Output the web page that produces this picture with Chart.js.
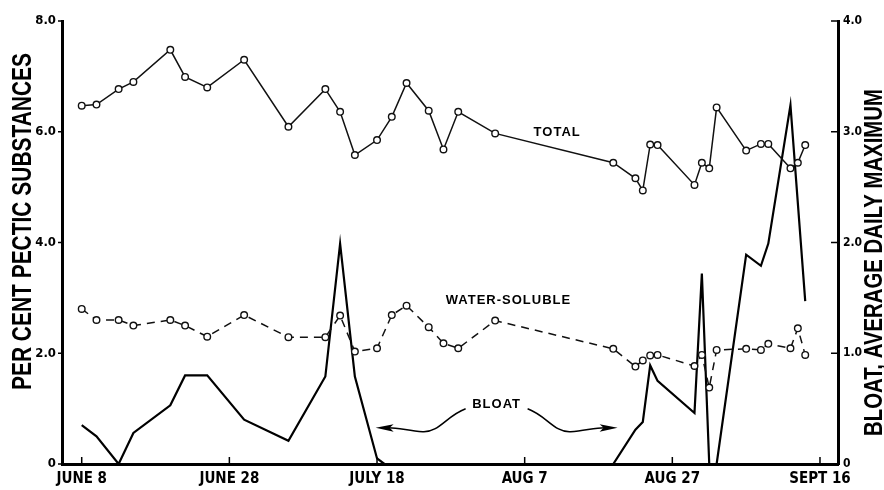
<!DOCTYPE html>
<html lang="en">
  <head>
    <meta charset="utf-8" />
    <meta name="viewport" content="width=device-width, initial-scale=1" />
    <title>Pectic substances and bloat</title>
    <style>
      * {
        margin: 0;
        padding: 0;
      }
      body {
        background: #fff;
      }
      .chartBox {
        width: 884px;
        height: 490px;
      }
    </style>
  </head>
  <body>
    <div class="chartBox">
      <canvas id="myChart"></canvas>
    </div>

    <script src="https://cdn.jsdelivr.net/npm/chart.js@4.4.0/dist/chart.umd.min.js"></script>

    <script>
      // sampling days, counted from June 8
      const sampleDays = [0, 2, 5, 7, 12, 14, 17, 22, 28, 33, 35, 37, 40, 42, 44, 47, 49, 51, 56, 72, 75, 76, 77, 78, 83, 84, 85, 86, 90, 92, 93, 96, 97, 98];
      const totalPectic = [6.47, 6.49, 6.77, 6.9, 7.48, 6.99, 6.8, 7.3, 6.09, 6.77, 6.36, 5.58, 5.85, 6.27, 6.88, 6.38, 5.68, 6.36, 5.97, 5.44, 5.16, 4.94, 5.77, 5.76, 5.04, 5.44, 5.34, 6.44, 5.66, 5.78, 5.78, 5.34, 5.44, 5.76];
      const waterSoluble = [2.8, 2.6, 2.6, 2.5, 2.6, 2.5, 2.3, 2.69, 2.29, 2.29, 2.68, 2.03, 2.09, 2.69, 2.86, 2.47, 2.18, 2.09, 2.59, 2.08, 1.76, 1.87, 1.96, 1.97, 1.77, 1.97, 1.38, 2.06, 2.08, 2.06, 2.17, 2.09, 2.45, 1.97];

      // bloat, average daily maximum (right axis); null = no bloat period
      const bloatDays = [0, 2, 5, 7, 12, 14, 17, 22, 28, 33, 35, 37, 40, 41, 56, 72, 75, 76, 77, 78, 83, 84, 85, 86, 90, 92, 93, 96, 98];
      const bloatMax = [0.35, 0.25, 0, 0.28, 0.53, 0.8, 0.8, 0.4, 0.21, 0.79, 1.99, 0.79, 0.05, 0, null, 0, 0.31, 0.38, 0.89, 0.75, 0.46, 1.72, 0, 0, 1.89, 1.79, 1.99, 3.24, 1.47];

      const dateTicks = [0, 20, 40, 60, 80, 100];
      const dateLabels = ["JUNE 8", "JUNE 28", "JULY 18", "AUG 7", "AUG 27", "SEPT 16"];
      const pecticTicks = [0, 2, 4, 6, 8];
      const bloatTicks = [0, 1, 2, 3, 4];

      const toPoints = (xs, ys) => xs.map((x, i) => ({ x: x, y: ys[i] }));
      const numLabel = (v) => (v === 0 ? "0" : v.toFixed(1));
      const narrow = '"Liberation Sans Narrow", "DejaVu Sans Condensed", "Liberation Sans", sans-serif';

      const data = {
        datasets: [
          {
            label: "Total",
            data: toPoints(sampleDays, totalPectic),
            yAxisID: "y",
            borderColor: "#111",
            borderWidth: 1.5,
            pointRadius: 3.3,
            pointBorderWidth: 1.4,
            pointBackgroundColor: "#fff",
            pointBorderColor: "#111",
          },
          {
            label: "Water-soluble",
            data: toPoints(sampleDays, waterSoluble),
            yAxisID: "y",
            borderColor: "#111",
            borderWidth: 1.5,
            borderDash: [8, 6],
            pointRadius: 3.3,
            pointBorderWidth: 1.4,
            pointBackgroundColor: "#fff",
            pointBorderColor: "#111",
          },
          {
            label: "Bloat",
            data: toPoints(bloatDays, bloatMax),
            yAxisID: "y2",
            borderColor: "#000",
            borderWidth: 2.2,
            pointRadius: 0,
            spanGaps: false,
          },
        ],
      };

      // inside tick marks, axis titles and the hand lettered notes
      const paperMarks = {
        id: "paperMarks",
        afterDraw(chart) {
          const { ctx, chartArea, scales } = chart;
          const { x, y, y2 } = scales;
          ctx.save();
          ctx.strokeStyle = "#000";
          ctx.lineWidth = 1.5;
          ctx.beginPath();
          dateTicks.forEach((d) => {
            const px = x.getPixelForValue(d);
            ctx.moveTo(px, chartArea.bottom);
            ctx.lineTo(px, chartArea.bottom - 7);
          });
          pecticTicks.forEach((v) => {
            const py = y.getPixelForValue(v);
            ctx.moveTo(chartArea.left - 4, py);
            ctx.lineTo(chartArea.left, py);
          });
          bloatTicks.forEach((v) => {
            const py = y2.getPixelForValue(v);
            ctx.moveTo(chartArea.right, py);
            ctx.lineTo(chartArea.right - 7, py);
          });
          ctx.stroke();

          // axis titles, both read bottom to top
          const midY = (chartArea.top + chartArea.bottom) / 2;
          const drawTitle = (text, cx, cy, size, length) => {
            ctx.save();
            ctx.translate(cx, cy);
            ctx.rotate(-Math.PI / 2);
            ctx.font = "bold " + size + 'px "Liberation Sans", Arial, sans-serif';
            const w = ctx.measureText(text).width;
            ctx.scale(length / w, 1);
            ctx.fillStyle = "#000";
            ctx.textAlign = "center";
            ctx.textBaseline = "middle";
            ctx.fillText(text, 0, 0);
            ctx.restore();
          };
          drawTitle("PER CENT PECTIC SUBSTANCES", 24, midY - 21, 27, 337);
          drawTitle("BLOAT, AVERAGE DAILY MAXIMUM", chart.width - 9, midY + 20, 25, 347);

          // series notes
          ctx.fillStyle = "#000";
          ctx.font = 'bold 13px "Liberation Sans", Arial, sans-serif';
          ctx.textAlign = "center";
          ctx.textBaseline = "middle";
          const notes = [
            { text: "TOTAL", day: 64.4, value: 5.98 },
            { text: "WATER-SOLUBLE", day: 57.8, value: 2.95 },
            { text: "BLOAT", day: 56.2, value: 1.07 },
          ];
          ctx.letterSpacing = "1px";
          notes.forEach((n) => {
            ctx.fillText(n.text, x.getPixelForValue(n.day), y.getPixelForValue(n.value));
          });
          ctx.letterSpacing = "0px";

          // wavy arrows either side of BLOAT
          const lx = x.getPixelForValue(56.2);
          const ly = y.getPixelForValue(1.07);
          ctx.lineWidth = 1.6;
          const arrow = (s) => {
            ctx.beginPath();
            ctx.moveTo(lx + s * 31, ly + 4);
            ctx.bezierCurveTo(lx + s * 50, ly + 11, lx + s * 58, ly + 28, lx + s * 74, ly + 27);
            ctx.bezierCurveTo(lx + s * 88, ly + 26, lx + s * 98, ly + 23, lx + s * 108, ly + 23);
            ctx.stroke();
            ctx.beginPath();
            ctx.moveTo(lx + s * 121, ly + 23);
            ctx.lineTo(lx + s * 103, ly + 19.5);
            ctx.lineTo(lx + s * 107, ly + 23);
            ctx.lineTo(lx + s * 103, ly + 27);
            ctx.closePath();
            ctx.fill();
          };
          arrow(-1);
          arrow(1);
          ctx.restore();
        },
      };

      const config = {
        type: "line",
        data: data,
        options: {
          responsive: true,
          maintainAspectRatio: false,
          animation: false,
          layout: {
            padding: { top: 21, left: 0, right: 0, bottom: 0 },
          },
          scales: {
            x: {
              type: "linear",
              min: -2.67,
              max: 102.44,
              afterBuildTicks: (s) => {
                s.ticks = dateTicks.map((v) => ({ value: v }));
              },
              afterFit: (s) => {
                s.height = 26;
              },
              grid: { display: false, drawTicks: false },
              border: { display: true, width: 3, color: "#000" },
              ticks: {
                autoSkip: false,
                maxRotation: 0,
                padding: 6,
                color: "#000",
                font: { family: narrow, weight: "bold", size: 15 },
                callback: (v, i) => dateLabels[i],
              },
            },
            y: {
              position: "left",
              min: 0,
              max: 8,
              afterBuildTicks: (s) => {
                s.ticks = pecticTicks.map((v) => ({ value: v }));
              },
              afterFit: (s) => {
                s.width = 62;
              },
              grid: { display: false, drawTicks: false },
              border: { display: true, width: 3, color: "#000" },
              ticks: {
                padding: 6,
                color: "#000",
                font: { family: narrow, weight: "bold", size: 13 },
                callback: numLabel,
              },
            },
            y2: {
              position: "right",
              min: 0,
              max: 4,
              afterBuildTicks: (s) => {
                s.ticks = bloatTicks.map((v) => ({ value: v }));
              },
              afterFit: (s) => {
                s.width = 46;
              },
              grid: { display: false, drawTicks: false },
              border: { display: true, width: 3, color: "#000" },
              ticks: {
                padding: 5,
                color: "#000",
                font: { family: narrow, weight: "bold", size: 12 },
                callback: numLabel,
              },
            },
          },
          plugins: {
            legend: { display: false },
            tooltip: { enabled: false },
          },
        },
        plugins: [paperMarks],
      };

      const myChart = new Chart(document.getElementById("myChart"), config);
    </script>
  </body>
</html>
